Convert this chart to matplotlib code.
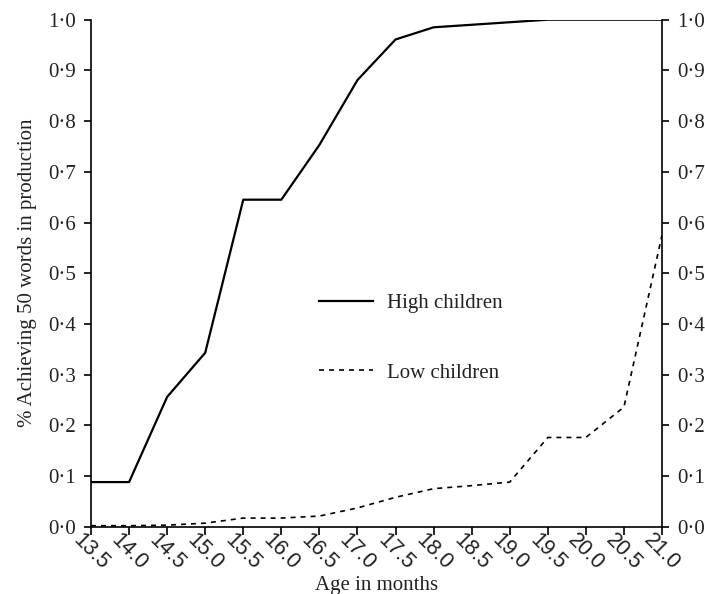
import matplotlib
matplotlib.use("Agg")
import matplotlib.pyplot as plt
import matplotlib.transforms as mtransforms

ages = [13.5, 14.0, 14.5, 15.0, 15.5, 16.0, 16.5, 17.0, 17.5, 18.0, 18.5, 19.0, 19.5, 20.0, 20.5, 21.0]
high = [0.088, 0.088, 0.256, 0.343, 0.645, 0.645, 0.753, 0.881, 0.961, 0.985, 0.990, 0.995, 1.0, 1.0, 1.0, 1.0]
low = [0.002, 0.002, 0.003, 0.007, 0.017, 0.017, 0.021, 0.037, 0.058, 0.075, 0.081, 0.088, 0.176, 0.176, 0.236, 0.575]
yticks = [0.0, 0.1, 0.2, 0.3, 0.4, 0.5, 0.6, 0.7, 0.8, 0.9, 1.0]
ytick_labels = ["0·0", "0·1", "0·2", "0·3", "0·4", "0·5", "0·6", "0·7", "0·8", "0·9", "1·0"]
xtick_labels = ["13.5", "14.0", "14.5", "15.0", "15.5", "16.0", "16.5", "17.0", "17.5",
                "18.0", "18.5", "19.0", "19.5", "20.0", "20.5", "21.0"]

serif = "Liberation Serif"
sans = "Liberation Sans"

fig = plt.figure(figsize=(7.05, 5.94), dpi=100)
ax = fig.add_axes([91/705, 1-526.7/594, (662-91)/705, (526.7-19.7)/594])

ax.plot(ages, high, color="black", lw=1.6, label="High children")
ax.plot(ages, low, color="black", lw=1.2, dashes=(3, 3), label="Low children")

ax.set_xlim(13.5, 21.0)
ax.set_ylim(0, 1.0)
ax.set_xticks(ages)
ax.set_xticklabels(xtick_labels, rotation=-45, ha="center", va="top",
                   family=sans, fontsize=15.5, color="#222222")
offset = mtransforms.ScaledTranslation(4/100, 0, fig.dpi_scale_trans)
for lab in ax.get_xticklabels():
    lab.set_transform(lab.get_transform() + offset)
ax.set_yticks(yticks)
ax.set_yticklabels(ytick_labels, family=serif, fontsize=15, color="#222222")
ax.tick_params(axis="y", which="both", left=True, right=True, labelleft=True,
               labelright=True, direction="out", length=5, width=1.2, pad=6)
ax.tick_params(axis="x", direction="out", length=6, width=1.2, pad=-4)

ax.spines["top"].set_visible(False)
for s in ["left", "right", "bottom"]:
    ax.spines[s].set_linewidth(1.2)

ax.set_xlabel("Age in months", family=serif, fontsize=15, color="#222222", labelpad=1)
ax.set_ylabel("% Achieving 50 words in production", family=serif, fontsize=15,
              color="#222222", labelpad=8)

leg = ax.legend(loc="center left", bbox_to_anchor=(0.366, 0.372), frameon=False,
                prop={"family": serif, "size": 15}, handlelength=2.6,
                handletextpad=0.7, labelspacing=2.4)
for t in leg.get_texts():
    t.set_color("#222222")

fig.savefig("out.png", dpi=100)
